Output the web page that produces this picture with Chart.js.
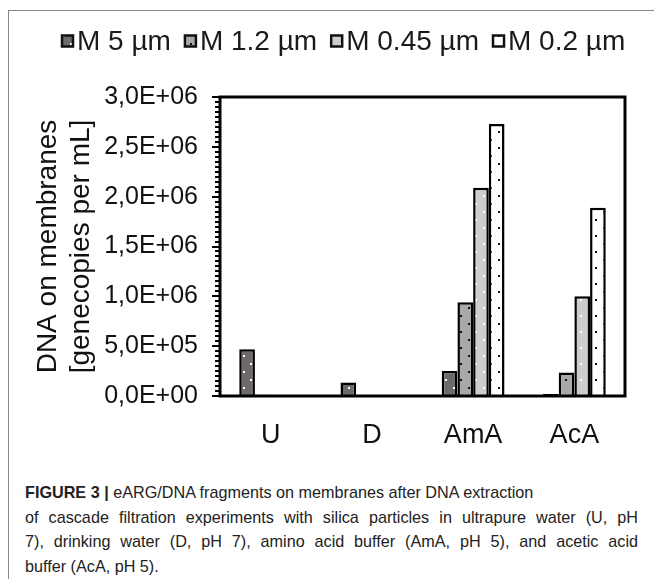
<!DOCTYPE html>
<html>
<head>
<meta charset="utf-8">
<script src="https://cdn.jsdelivr.net/npm/chart.js@4/dist/chart.umd.min.js"></script>
<style>
  html, body { margin:0; padding:0; background:#fff; }
  body { width:654px; height:579px; position:relative; overflow:hidden; }
  #frame { position:absolute; left:8px; top:10px; width:646px; height:569px;
           border-top:1px solid #858585; border-left:1px solid #858585; box-sizing:border-box; }
  #c { position:absolute; left:0; top:0; }
  #cap { position:absolute; left:25px; top:480px; width:613px;
         font-family:"Liberation Sans", Arial, sans-serif; font-size:16.2px; line-height:24.5px; color:#222; }
  #cap div { white-space:nowrap; }
  #cap .j { text-align:justify; text-align-last:justify; white-space:normal; }
  #cap b { font-weight:bold; }
</style>
</head>
<body>
<div id="frame"></div>
<canvas id="c" width="654" height="460"></canvas>
<div id="cap">
  <div><b>FIGURE 3 |</b> eARG/DNA fragments on membranes after DNA extraction</div>
  <div class="j">of cascade filtration experiments with silica particles in ultrapure water (U, pH</div>
  <div class="j">7), drinking water (D, pH 7), amino acid buffer (AmA, pH 5), and acetic acid</div>
  <div>buffer (AcA, pH 5).</div>
</div>
<script>
const categories = ['U', 'D', 'AmA', 'AcA'];
const seriesNames = ['M 5 µm', 'M 1.2 µm', 'M 0.45 µm', 'M 0.2 µm'];
const m5   = [4.7e5, 1.35e5, 2.5e5, 2.0e4];
const m12  = [1.2e4, 1.0e4, 9.4e5, 2.35e5];
const m045 = [8e3, 8e3, 2.09e6, 1.0e6];
const m02  = [6e3, 5e3, 2.73e6, 1.89e6];
const yTicks = [0, 5e5, 1e6, 1.5e6, 2e6, 2.5e6, 3e6];

const FONT = "'Liberation Sans', Arial, sans-serif";
const canvas = document.getElementById('c');
const ctx = canvas.getContext('2d');

function makePattern(bg, dot, ds) {
  const t = document.createElement('canvas');
  t.width = 15; t.height = 16;
  const x = t.getContext('2d');
  x.fillStyle = bg; x.fillRect(0, 0, 15, 16);
  x.fillStyle = dot;
  x.fillRect(3, 3, ds, ds);
  x.fillRect(10, 11, ds, ds);
  return ctx.createPattern(t, 'repeat');
}
const fills = [
  makePattern('#6f6a6a', '#ffffff', 2),
  makePattern('#a8a8a8', '#111111', 2),
  makePattern('#cdcdcd', '#ffffff', 2),
  makePattern('#ffffff', '#111111', 2)
];
const seriesData = [m5, m12, m045, m02];

function fmt(v) {
  if (v === 0) return '0,0E+00';
  const e = Math.floor(Math.log10(v) + 1e-9);
  const m = v / Math.pow(10, e);
  return m.toFixed(1).replace('.', ',') + 'E+' + String(e).padStart(2, '0');
}

const boxPlugin = {
  id: 'boxTicks',
  afterDatasetsDraw(chart) {
    const a = chart.chartArea, y = chart.scales.y, c = chart.ctx;
    c.save();
    c.strokeStyle = '#000';
    c.lineWidth = 2;
    for (let v = 0; v <= 3e6 + 1; v += 5e4) {
      const py = Math.round(y.getPixelForValue(v));
      const major = Math.abs(v / 5e5 - Math.round(v / 5e5)) < 1e-6;
      c.beginPath();
      c.moveTo(a.left - (major ? 8 : 5), py);
      c.lineTo(a.left, py);
      c.stroke();
    }
    c.lineWidth = 3;
    c.strokeRect(a.left, a.top, a.right - a.left, a.bottom - a.top);
    c.restore();
  }
};

const legendPlugin = {
  id: 'customLegend',
  afterDraw(chart) {
    const c = chart.ctx;
    c.save();
    c.font = '28px ' + FONT;
    c.textBaseline = 'middle';
    const cy = 41, box = 11;
    let x = 62;
    chart.data.datasets.forEach(ds => {
      c.fillStyle = ds.backgroundColor;
      c.fillRect(x, cy - box / 2, box, box);
      c.strokeStyle = '#111';
      c.lineWidth = 2.5;
      c.strokeRect(x, cy - box / 2, box, box);
      x += box + 4;
      c.fillStyle = '#1a1a1a';
      c.fillText(ds.label, x, cy + 1);
      x += c.measureText(ds.label).width + 14;
    });
    c.restore();
  }
};

new Chart(ctx, {
  type: 'bar',
  data: {
    labels: categories,
    datasets: seriesNames.map((n, i) => ({
      label: n,
      data: seriesData[i],
      backgroundColor: fills[i],
      borderColor: '#000',
      borderWidth: 2.5,
      categoryPercentage: 0.62,
      barPercentage: 1.0
    }))
  },
  options: {
    responsive: false,
    animation: false,
    layout: { padding: { left: 0, right: 29, top: 97, bottom: 0 } },
    plugins: {
      tooltip: { enabled: false },
      legend: { display: false }
    },
    scales: {
      x: {
        grid: { display: false, drawTicks: false },
        border: { display: false },
        ticks: { color: '#111', padding: 23, font: { family: FONT, size: 27 } },
        afterFit(s) { s.height = 64; s.paddingLeft = 0; s.paddingRight = 0; }
      },
      y: {
        min: 0, max: 3e6,
        afterBuildTicks(s) { s.ticks = yTicks.map(v => ({ value: v })); },
        grid: { display: false, drawTicks: false },
        border: { display: false },
        ticks: {
          color: '#111', padding: 22, autoSkip: false,
          font: { family: FONT, size: 25 },
          callback: v => fmt(v)
        },
        title: {
          display: true,
          text: ['DNA on membranes', '[genecopies per mL]'],
          color: '#111',
          font: { family: FONT, size: 28, lineHeight: 1.2 },
          padding: { top: 31, bottom: 0 }
        },
        afterFit(s) { s.width = 220; s.paddingTop = 0; s.paddingBottom = 0; }
      }
    }
  },
  plugins: [boxPlugin, legendPlugin]
});
</script>
</body>
</html>
